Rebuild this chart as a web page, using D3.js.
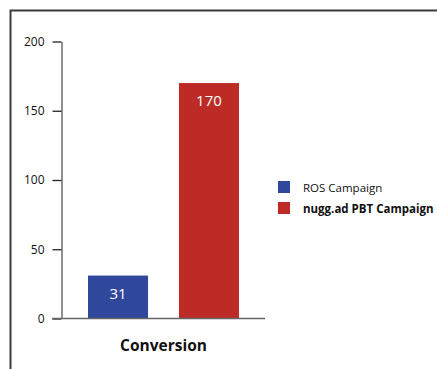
<!DOCTYPE html>
<html>
<head>
<meta charset="utf-8">
<script src="https://cdn.jsdelivr.net/npm/d3@7"></script>
<style>
  html, body { margin: 0; padding: 0; background: #fff; }
  svg { display: block; }
  text { font-family: "Open Sans", "DejaVu Sans", sans-serif; }
</style>
</head>
<body>
<svg id="chart" width="437" height="369"></svg>
<script>
const categories = ["Conversion"];
const seriesNames = ["ROS Campaign", "nugg.ad PBT Campaign"];
const seriesValues = [31, 170];
const seriesColors = ["#2f489c", "#bd2b26"];
const yTicks = [0, 50, 100, 150, 200];

const svg = d3.select("#chart");

// frame
svg.append("path")
  .attr("d", "M10.5,369 V10.5 H437")
  .attr("fill", "none")
  .attr("stroke", "#3a3a3a")
  .attr("stroke-width", 2);

const y = d3.scaleLinear().domain([0, 200]).range([318.5, 41.5]);
const x0 = d3.scaleBand().domain(categories).range([62, 265]);
const x1 = d3.scaleBand().domain(seriesNames).range([26, 177]).paddingInner(0.34);

// y axis
const yAxis = d3.axisLeft(y).tickValues(yTicks).tickSize(9).tickPadding(8).tickSizeOuter(0);
const gy = svg.append("g").attr("transform", "translate(61.5,0)").call(yAxis);
gy.select(".domain").attr("stroke", "#555").attr("stroke-width", 1.3);
gy.selectAll(".tick line").attr("stroke", "#222").attr("stroke-width", 1.3);
gy.selectAll(".tick text").attr("fill", "#111").style("font-size", "12px");

// bars
const gBars = svg.append("g");
categories.forEach(cat => {
  seriesNames.forEach((s, i) => {
    const bx = x0(cat) + x1(s);
    gBars.append("rect")
      .attr("x", bx)
      .attr("y", y(seriesValues[i]))
      .attr("width", x1.bandwidth())
      .attr("height", y(0) - y(seriesValues[i]))
      .attr("fill", seriesColors[i]);
    gBars.append("text")
      .attr("x", bx + x1.bandwidth() / 2)
      .attr("y", y(seriesValues[i]) + 23)
      .attr("text-anchor", "middle")
      .attr("fill", "#fff")
      .style("font-size", "15px")
      .text(seriesValues[i]);
  });
});

// x axis baseline
svg.append("line")
  .attr("x1", 52).attr("x2", 265)
  .attr("y1", y(0)).attr("y2", y(0))
  .attr("stroke", "#666").attr("stroke-width", 1.5);

// category label
svg.append("text")
  .attr("x", x0(categories[0]) + x0.bandwidth() / 2)
  .attr("y", 351)
  .attr("text-anchor", "middle")
  .attr("fill", "#111")
  .style("font-size", "15.5px")
  .style("font-weight", "bold")
  .text(categories[0]);

// legend
const legend = svg.append("g").attr("transform", "translate(278,181)");
seriesNames.forEach((s, i) => {
  const g = legend.append("g").attr("transform", `translate(0,${i * 21})`);
  g.append("rect").attr("width", 12).attr("height", 12).attr("fill", seriesColors[i]);
  g.append("text")
    .attr("x", 25).attr("y", 10.5)
    .attr("fill", "#111")
    .style("font-size", "11.5px")
    .style("font-weight", i === 1 ? "bold" : "normal")
    .text(s);
});
</script>
</body>
</html>
